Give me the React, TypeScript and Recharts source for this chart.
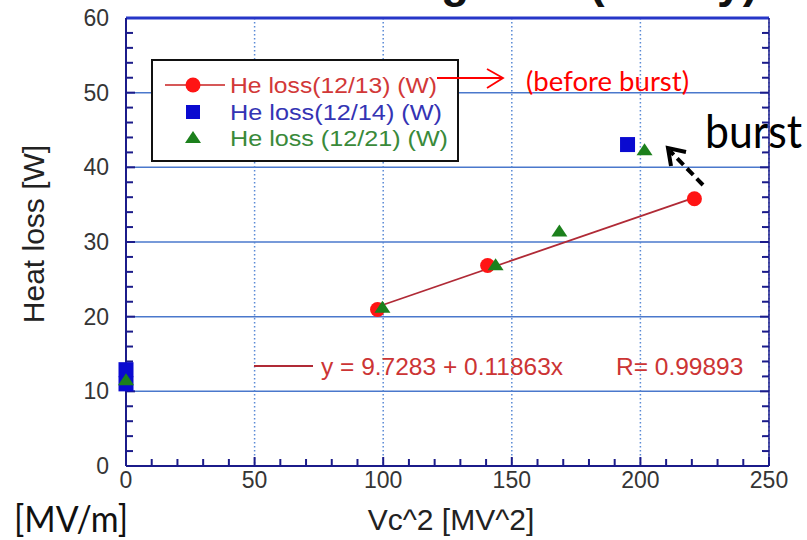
import React from 'react';
import {
  ScatterChart,
  Scatter,
  XAxis,
  YAxis,
  CartesianGrid,
  ReferenceLine,
} from 'recharts';

// ---- data -------------------------------------------------------------
const xTicks = [0, 50, 100, 150, 200, 250];
const xMinorTicks = [10, 20, 30, 40, 60, 70, 80, 90, 110, 120, 130, 140, 160, 170, 180, 190, 210, 220, 230, 240];
const yTicks = [0, 10, 20, 30, 40, 50, 60];
const yMinorTicks = [2, 4, 6, 8, 12, 14, 16, 18, 22, 24, 26, 28, 32, 34, 36, 38, 42, 44, 46, 48, 52, 54, 56, 58];

const heLoss1213 = [
  { x: 97.8, y: 20.96 },
  { x: 140.6, y: 26.85 },
  { x: 221.0, y: 35.8 },
];
const heLoss1214 = [
  { x: 0, y: 12.9 },
  { x: 0, y: 11.0 },
  { x: 195.0, y: 43.05 },
];
const heLoss1221 = [
  { x: 0, y: 11.5 },
  { x: 99.7, y: 21.2 },
  { x: 143.7, y: 26.9 },
  { x: 168.5, y: 31.4 },
  { x: 201.6, y: 42.3 },
];

const seriesNames = ['He loss(12/13) (W)', 'He loss(12/14) (W)', 'He loss (12/21) (W)'];

// linear fit of the 12/13 series
const fitIntercept = 9.7283;
const fitSlope = 0.11863;
const fitR = 0.99893;

const fitX0 = Math.min(...heLoss1213.map((d) => d.x));
const fitX1 = Math.max(...heLoss1213.map((d) => d.x));
const fitSegment = [
  { x: fitX0, y: fitIntercept + fitSlope * fitX0 },
  { x: fitX1, y: fitIntercept + fitSlope * fitX1 },
];

// ---- layout & styles --------------------------------------------------
const WIDTH = 807;
const HEIGHT = 540;
const MARGIN = { top: 18, right: 38, bottom: 0, left: 66 };
const MINOR_LEN = 7;
const MAJOR_LEN = 9;

const NAVY = '#1b1b8a';
const FRAME_TOP = '#2636c8';
const ARIAL = '"Liberation Sans", Arial, sans-serif';
const HUMANIST = 'Lato, "Open Sans", sans-serif';
const RED = '#ff1414';
const BLUE = '#0a0ad0';
const GREEN = '#1c801c';
const THIN = 0.01;

const tickStyle = { fill: '#353535', fontSize: 23, fontFamily: ARIAL };
const NoLabel = () => <g />;

// short inward marks drawn at the foot of a vertical reference line
const bottomMark = (len: number) => (p: any) => {
  const bottom = Math.max(p.y1, p.y2);
  return (
    <line x1={p.x1} x2={p.x1} y1={bottom} y2={bottom - len} stroke={NAVY} strokeWidth={2} />
  );
};
// short inward marks at both ends of a horizontal reference line
const sideMarks = (len: number) => (p: any) => {
  const left = Math.min(p.x1, p.x2);
  const right = Math.max(p.x1, p.x2);
  return (
    <g>
      <line x1={left} x2={left + len} y1={p.y1} y2={p.y1} stroke={NAVY} strokeWidth={2} />
      <line x1={right} x2={right - len} y1={p.y1} y2={p.y1} stroke={NAVY} strokeWidth={2} />
    </g>
  );
};
const minorBottom = bottomMark(MINOR_LEN);
const majorBottom = bottomMark(MAJOR_LEN);
const minorSide = sideMarks(MINOR_LEN);
const majorSide = sideMarks(MAJOR_LEN);

const RedDot = (p: any) => <circle cx={p.cx} cy={p.cy} r={7.5} fill={RED} />;
const BlueSquare = (p: any) => (
  <rect x={p.cx - 7.5} y={p.cy - 7.5} width={15} height={15} fill={BLUE} />
);
const GreenTriangle = (p: any) => (
  <polygon
    points={`${p.cx},${p.cy - 7} ${p.cx + 8},${p.cy + 5} ${p.cx - 8},${p.cy + 5}`}
    fill={GREEN}
  />
);

const legendRows = [
  { name: seriesNames[0], color: '#d23838', y: 85, marker: 'circle', len: 207 },
  { name: seriesNames[1], color: '#3434b4', y: 112, marker: 'square', len: 212 },
  { name: seriesNames[2], color: '#3a8a3a', y: 138, marker: 'triangle', len: 218 },
];

function LegendMarker({ kind, cx, cy }: { kind: string; cx: number; cy: number }) {
  if (kind === 'circle') {
    return (
      <g>
        <line x1={cx - 28} y1={cy} x2={cx + 32} y2={cy} stroke="#c82020" strokeWidth={1.6} />
        <circle cx={cx} cy={cy} r={7.5} fill={RED} />
      </g>
    );
  }
  if (kind === 'square') {
    return <rect x={cx - 7} y={cy - 7} width={14} height={14} fill={BLUE} />;
  }
  return (
    <polygon points={`${cx},${cy - 7} ${cx + 8},${cy + 5} ${cx - 8},${cy + 5}`} fill={GREEN} />
  );
}

export default function App() {
  return (
    <div style={{ position: 'absolute', left: 0, top: 0, width: WIDTH, height: HEIGHT }}>
      <ScatterChart width={WIDTH} height={HEIGHT} margin={MARGIN}>
        <CartesianGrid
          xAxisId="x"
          yAxisId="y"
          vertical={false}
          stroke="#4a78cc"
          strokeWidth={1.5}
        />
        <CartesianGrid
          xAxisId="x"
          yAxisId="y"
          horizontal={false}
          stroke="#5a8ad6"
          strokeWidth={1.5}
          strokeDasharray="1.5 2.5"
        />

        <XAxis
          xAxisId="x"
          type="number"
          dataKey="x"
          domain={[0, 250]}
          ticks={xTicks}
          interval={0}
          height={74}
          tickLine={false}
          tickSize={0}
          tickMargin={6}
          axisLine={{ stroke: NAVY, strokeWidth: 2 }}
          tick={tickStyle}
        />
        <XAxis
          xAxisId="xTop"
          orientation="top"
          type="number"
          domain={[0, 250]}
          allowDataOverflow
          mirror
          height={THIN}
          tick={NoLabel}
          tickLine={false}
          axisLine={{ stroke: FRAME_TOP, strokeWidth: 3 }}
        />

        <YAxis
          yAxisId="y"
          type="number"
          dataKey="y"
          domain={[0, 60]}
          ticks={yTicks}
          interval={0}
          width={60}
          tickLine={false}
          tickSize={0}
          tickMargin={17}
          axisLine={{ stroke: NAVY, strokeWidth: 2 }}
          tick={tickStyle}
        />
        <YAxis
          yAxisId="yRight"
          orientation="right"
          type="number"
          domain={[0, 60]}
          allowDataOverflow
          mirror
          width={THIN}
          tick={NoLabel}
          tickLine={false}
          axisLine={{ stroke: NAVY, strokeWidth: 1.5 }}
        />

        {/* inward tick marks on the frame */}
        {xMinorTicks.map((v) => (
          <ReferenceLine key={`xm${v}`} xAxisId="x" yAxisId="y" x={v} shape={minorBottom} ifOverflow="visible" />
        ))}
        {xTicks.map((v) => (
          <ReferenceLine key={`xM${v}`} xAxisId="x" yAxisId="y" x={v} shape={majorBottom} ifOverflow="visible" />
        ))}
        {yMinorTicks.map((v) => (
          <ReferenceLine key={`ym${v}`} xAxisId="x" yAxisId="y" y={v} shape={minorSide} ifOverflow="visible" />
        ))}
        {yTicks.map((v) => (
          <ReferenceLine key={`yM${v}`} xAxisId="x" yAxisId="y" y={v} shape={majorSide} ifOverflow="visible" />
        ))}

        <ReferenceLine
          xAxisId="x"
          yAxisId="y"
          segment={fitSegment}
          stroke="#b02a36"
          strokeWidth={1.8}
          ifOverflow="visible"
        />

        <Scatter
          name={seriesNames[0]}
          data={heLoss1213}
          xAxisId="x"
          yAxisId="y"
          shape={RedDot}
          isAnimationActive={false}
        />
        <Scatter
          name={seriesNames[1]}
          data={heLoss1214}
          xAxisId="x"
          yAxisId="y"
          shape={BlueSquare}
          isAnimationActive={false}
        />
        <Scatter
          name={seriesNames[2]}
          data={heLoss1221}
          xAxisId="x"
          yAxisId="y"
          shape={GreenTriangle}
          isAnimationActive={false}
        />
      </ScatterChart>

      {/* titles, legend and annotations */}
      <svg
        width={WIDTH}
        height={HEIGHT}
        style={{ position: 'absolute', left: 0, top: 0, pointerEvents: 'none' }}
      >
        <text
          x={758}
          y={-3}
          textAnchor="end"
          fontFamily={ARIAL}
          fontWeight="bold"
          fontSize={46}
          fill="#111"
        >
          Heating data (Cavity)
        </text>

        <text
          transform="translate(44, 234) rotate(-90)"
          textAnchor="middle"
          fontFamily={ARIAL}
          fontSize={30}
          fill="#222"
        >
          Heat loss [W]
        </text>
        <text x={451} y={530} textAnchor="middle" fontFamily={ARIAL} fontSize={30} fill="#222">
          Vc^2 [MV^2]
        </text>
        <text
          x={14}
          y={532}
          fontFamily={HUMANIST}
          fontSize={36}
          textLength={114}
          lengthAdjust="spacingAndGlyphs"
          fill="#111"
        >
          [MV/m]
        </text>

        {/* legend */}
        <rect x={152} y={60} width={306} height={101} fill="#fff" stroke="#111" strokeWidth={2} />
        {legendRows.map((r) => (
          <g key={r.name}>
            <LegendMarker kind={r.marker} cx={193} cy={r.y} />
            <text
              x={230}
              y={r.y + 7.5}
              fontFamily={ARIAL}
              fontSize={21.5}
              textLength={r.len}
              lengthAdjust="spacingAndGlyphs"
              fill={r.color}
            >
              {r.name}
            </text>
          </g>
        ))}

        {/* fit equation */}
        <line x1={254} y1={366} x2={313} y2={366} stroke="#b02a36" strokeWidth={1.8} />
        <text x={321} y={375} fontFamily={ARIAL} fontSize={24.5} fill="#cc3434">
          {`y = ${fitIntercept} + ${fitSlope}x`}
          <tspan x={616}>{`R= ${fitR}`}</tspan>
        </text>

        {/* "before burst" pointer */}
        <line x1={437} y1={78} x2={503} y2={78} stroke="#ff0000" strokeWidth={1.8} />
        <polyline points="487,69 503,78 487,88" fill="none" stroke="#ff0000" strokeWidth={1.8} />
        <text
          x={526}
          y={91}
          fontFamily={HUMANIST}
          fontSize={27}
          textLength={163}
          lengthAdjust="spacingAndGlyphs"
          fill="#ff0000"
        >
          (before burst)
        </text>

        {/* burst pointer */}
        <text
          transform="translate(705, 148) scale(1, 1.08)"
          fontFamily={HUMANIST}
          fontSize={43}
          textLength={97}
          lengthAdjust="spacingAndGlyphs"
          fill="#000"
        >
          burst
        </text>
        <line
          x1={703}
          y1={185}
          x2={670}
          y2={151}
          stroke="#000"
          strokeWidth={4}
          strokeDasharray="9 5"
        />
        <polyline points="671,166 668,148 686,152" fill="none" stroke="#000" strokeWidth={4} />
      </svg>
    </div>
  );
}
